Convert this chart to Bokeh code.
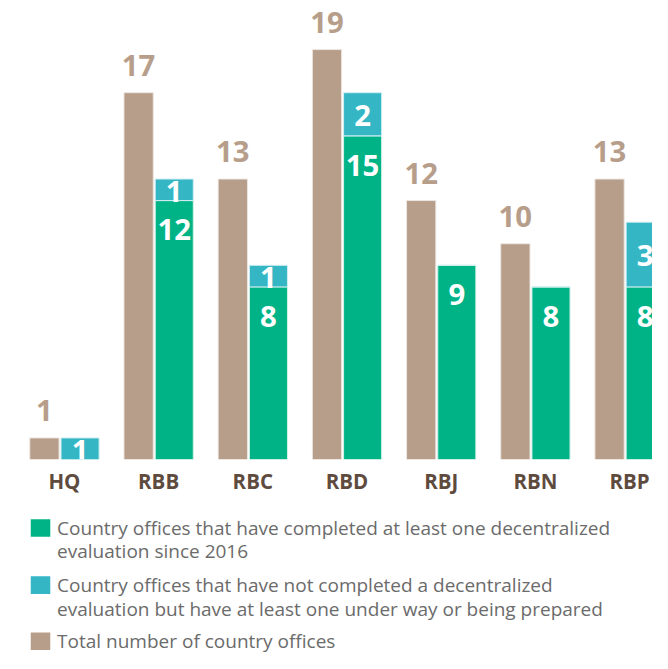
from bokeh.plotting import figure
from bokeh.layouts import column
from bokeh.models import Range1d, ColumnDataSource, FixedTicker
from bokeh.core.properties import value
from bokeh.embed import file_html
from bokeh.resources import INLINE

categories = ["HQ", "RBB", "RBC", "RBD", "RBJ", "RBN", "RBP"]
total = [1, 17, 13, 19, 12, 10, 13]
completed = [0, 12, 8, 15, 9, 8, 8]
underway = [1, 1, 1, 2, 0, 0, 3]

legend_lines = [
    ["Country offices that have completed at least one decentralized",
     "evaluation since 2016"],
    ["Country offices that  have not completed a decentralized",
     "evaluation but have at least one under way or being prepared"],
    ["Total number of country offices"],
]

BROWN = "#b79e8b"
GREEN = "#00b386"
TEAL = "#35b6c5"
CAT = "#5e4b3e"
LEG_TXT = "#6b6b6b"
FONT = "Open Sans"

# design is laid out in a 668x669 reference space, scaled to fit the page
REF_W, REF_H = 668, 669
W, H = 652, 653
S = W / REF_W

def px(v):
    return v * S

def fs(v):
    return f"{v * S:.1f}px"

MAIN_H = 500
LEG_H = H - MAIN_H
GROUP_PX = 96.5              # reference px per category
PX_PER_UNIT = 22.105         # reference px per count
BASE_Y = 470                 # reference baseline
FRAME_H = round(px(BASE_Y))
x0 = -65.5 / GROUP_PX

p = figure(width=W, height=MAIN_H, output_backend="svg", toolbar_location=None,
           x_range=Range1d(x0, x0 + REF_W / GROUP_PX),
           y_range=Range1d(0, (FRAME_H / S) / PX_PER_UNIT),
           min_border_left=0, min_border_right=0, min_border_top=0,
           min_border_bottom=MAIN_H - FRAME_H)
p.outline_line_color = None
p.grid.visible = False
p.yaxis.visible = False

idx = list(range(len(categories)))
b_off, b_w = -20.5 / GROUP_PX, 30 / GROUP_PX
g_off, g_w = 16 / GROUP_PX, 39 / GROUP_PX

src = ColumnDataSource(dict(
    xb=[i + b_off for i in idx],
    xg=[i + g_off for i in idx],
    total=total,
    completed=completed,
    top2=[c + u for c, u in zip(completed, underway)],
))

p.vbar(x="xb", width=b_w, bottom=0, top="total", source=src,
       fill_color=BROWN, line_color="#ede6e0", line_width=1)
p.vbar(x="xg", width=g_w, bottom=0, top="completed", source=src,
       fill_color=GREEN, line_color="#d2f1e8", line_width=1)
p.vbar(x="xg", width=g_w, bottom="completed", top="top2", source=src,
       fill_color=TEAL, line_color="#d2eef1", line_width=1)

NUM_FS = fs(30)
# value labels (text_baseline middle ~ cap centre)
p.text(x=[i + b_off for i in idx], y=total, text=[str(v) for v in total],
       text_align="center", text_baseline="middle", y_offset=px(-28),
       text_font=value(FONT), text_font_style="bold", text_font_size=NUM_FS,
       text_color=BROWN)

cx = [i + g_off for i in idx if completed[i] > 0]
cy = [completed[i] for i in idx if completed[i] > 0]
p.text(x=cx, y=cy, text=[str(v) for v in cy],
       text_align="center", text_baseline="middle", y_offset=px(30),
       text_font=value(FONT), text_font_style="bold", text_font_size=NUM_FS,
       text_color="white")

ux = [i + g_off for i in idx if underway[i] > 0]
uy = [completed[i] + underway[i] / 2 for i in idx if underway[i] > 0]
ut = [str(underway[i]) for i in idx if underway[i] > 0]
p.text(x=ux, y=uy, text=ut,
       text_align="center", text_baseline="middle", y_offset=px(1.5),
       text_font=value(FONT), text_font_style="bold", text_font_size=NUM_FS,
       text_color="white")

ax = p.xaxis[0]
ax.ticker = FixedTicker(ticks=idx)
ax.major_label_overrides = {i: c for i, c in zip(idx, categories)}
ax.axis_line_color = None
ax.major_tick_line_color = None
ax.minor_tick_line_color = None
ax.major_tick_out = 0
ax.major_label_standoff = 7
ax.major_label_text_font = FONT
ax.major_label_text_font_style = "bold"
ax.major_label_text_font_size = fs(21)
ax.major_label_text_color = CAT

# legend panel, drawn in reference-pixel coordinates (y downward)
lg_top_ref = MAIN_H / S
lg = figure(width=W, height=LEG_H, output_backend="svg", toolbar_location=None,
            x_range=Range1d(0, REF_W), y_range=Range1d(lg_top_ref + LEG_H / S, lg_top_ref),
            min_border=0)
lg.outline_line_color = None
lg.grid.visible = False
lg.axis.visible = False

sw_colors = [GREEN, TEAL, BROWN]
first_line_y = [540.5, 599, 656.5]
line_gap = 24
sw_x0, sw_w, sw_h = 31, 20, 18
txt_x = 58

lg.rect(x=[sw_x0 + sw_w / 2] * 3, y=first_line_y,
        width=sw_w, height=sw_h, fill_color=sw_colors, line_color=None)

tx, ty, tt = [], [], []
for y0, lines in zip(first_line_y, legend_lines):
    for k, s in enumerate(lines):
        tx.append(txt_x)
        ty.append(y0 + k * line_gap)
        tt.append(s)
lg.text(x=tx, y=ty, text=tt, text_align="left", text_baseline="middle",
        text_font=value(FONT), text_font_size=fs(19.5), text_color=LEG_TXT)

layout = column(p, lg, spacing=0)
open("out.html", "w").write(file_html(layout, INLINE))
